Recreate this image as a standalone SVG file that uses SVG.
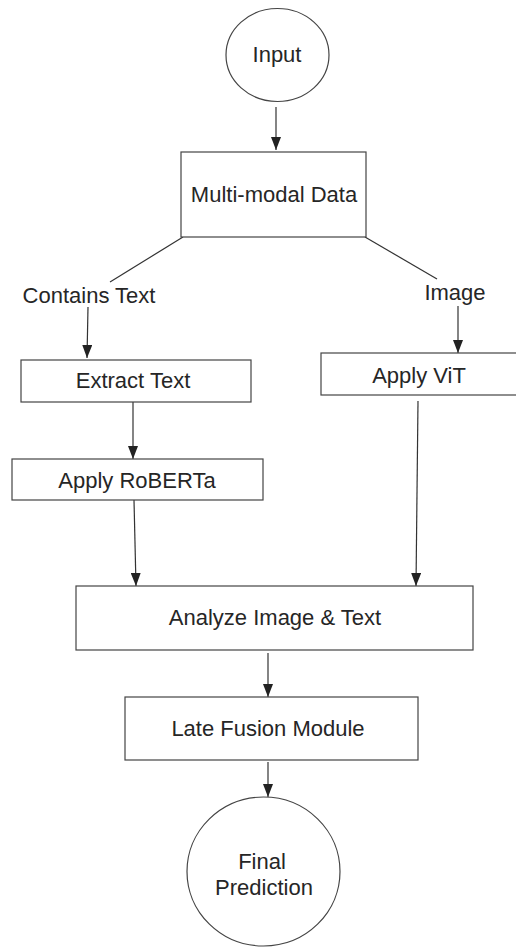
<svg xmlns="http://www.w3.org/2000/svg" width="516" height="947" viewBox="0 0 516 947">
  <defs>
    <marker id="arrow" viewBox="0 0 13 10" refX="13" refY="5" markerWidth="13" markerHeight="10" markerUnits="userSpaceOnUse" orient="auto">
      <path d="M0,0 L13,5 L0,10 Z" fill="#222"/>
    </marker>
    <style>
      .shape { fill: #fff; stroke: #444; stroke-width: 1.2; }
      .edge { fill: none; stroke: #333; stroke-width: 1.2; }
      .label { font-family: "Liberation Sans", Arial, sans-serif; font-size: 22px; fill: #262626; text-anchor: middle; }
    </style>
  </defs>
  <rect width="516" height="947" fill="#fff"/>

  <!-- connectors -->
  <g id="connectors">
    <line class="edge" x1="276" y1="107" x2="276" y2="150" marker-end="url(#arrow)"/>
    <line class="edge" x1="183" y1="237" x2="110" y2="282"/>
    <line class="edge" x1="365" y1="237" x2="437" y2="279"/>
    <line class="edge" x1="88" y1="307" x2="87" y2="358" marker-end="url(#arrow)"/>
    <line class="edge" x1="458" y1="306" x2="458" y2="353" marker-end="url(#arrow)"/>
    <line class="edge" x1="133" y1="402" x2="133" y2="459" marker-end="url(#arrow)"/>
    <line class="edge" x1="134" y1="500" x2="136" y2="586" marker-end="url(#arrow)"/>
    <line class="edge" x1="418" y1="401" x2="416" y2="586" marker-end="url(#arrow)"/>
    <line class="edge" x1="268" y1="653" x2="268" y2="697" marker-end="url(#arrow)"/>
    <line class="edge" x1="268" y1="762" x2="268" y2="797" marker-end="url(#arrow)"/>
  </g>

  <g id="input">
    <ellipse class="shape" cx="277.5" cy="55" rx="51.5" ry="46.5"/>
    <text class="label" x="277" y="62">Input</text>
  </g>

  <g id="multimodal-data">
    <rect class="shape" x="181" y="152" width="185" height="85"/>
    <text class="label" x="274" y="202">Multi-modal Data</text>
  </g>

  <g id="contains-text">
    <text class="label" x="89" y="303">Contains Text</text>
  </g>

  <g id="image">
    <text class="label" x="455" y="300">Image</text>
  </g>

  <g id="extract-text">
    <rect class="shape" x="21" y="360" width="230" height="42"/>
    <text class="label" x="133" y="388">Extract Text</text>
  </g>

  <g id="apply-vit">
    <rect class="shape" x="321" y="353" width="200" height="42"/>
    <text class="label" x="419" y="383">Apply ViT</text>
  </g>

  <g id="apply-roberta">
    <rect class="shape" x="12" y="459" width="251" height="41"/>
    <text class="label" x="137" y="488">Apply RoBERTa</text>
  </g>

  <g id="analyze">
    <rect class="shape" x="76" y="586" width="397" height="64"/>
    <text class="label" x="275" y="625">Analyze Image &amp; Text</text>
  </g>

  <g id="late-fusion">
    <rect class="shape" x="125" y="697" width="293" height="63"/>
    <text class="label" x="268" y="736">Late Fusion Module</text>
  </g>

  <g id="final-prediction">
    <ellipse class="shape" cx="263.5" cy="871.5" rx="76.5" ry="74.5"/>
    <text class="label" x="262" y="869">Final</text>
    <text class="label" x="264" y="895">Prediction</text>
  </g>
</svg>
